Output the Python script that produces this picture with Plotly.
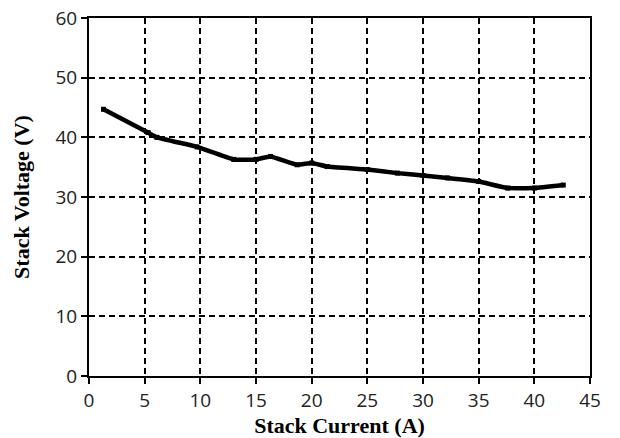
import plotly.graph_objects as go

current = [1.3, 5.3, 6.1, 9.7, 13.0, 15.0, 16.3, 18.7, 20.0, 21.4, 25.0, 27.7, 30.0, 32.2, 35.0, 37.6, 40.0, 42.6]
voltage = [44.7, 40.8, 40.0, 38.4, 36.3, 36.3, 36.8, 35.4, 35.7, 35.1, 34.6, 34.0, 33.6, 33.2, 32.6, 31.5, 31.5, 32.0]

x_ticks = [0, 5, 10, 15, 20, 25, 30, 35, 40, 45]
y_ticks = [0, 10, 20, 30, 40, 50, 60]

fig = go.Figure()
fig.add_trace(go.Scatter(
    x=current, y=voltage, mode="lines+markers",
    line=dict(color="black", width=4.5, shape="spline", smoothing=0.3),
    marker=dict(symbol="square", size=5, color="black"),
    showlegend=False, hoverinfo="skip",
))

tick_font = dict(family="Open Sans, DejaVu Sans, sans-serif", size=19, color="#222")
title_font = dict(family="Liberation Serif, Times New Roman, serif", size=22, color="black")

fig.update_layout(
    width=620, height=438,
    margin=dict(l=89, r=30, t=18, b=62),
    plot_bgcolor="white", paper_bgcolor="white",
    xaxis=dict(
        range=[0, 45], tickvals=x_ticks, ticktext=[str(v) for v in x_ticks],
        showline=True, linecolor="black", linewidth=2, mirror=True,
        ticks="outside", ticklen=6, tickwidth=2, tickcolor="black",
        showgrid=True, gridcolor="black", gridwidth=2, griddash="6px,4px",
        zeroline=False, tickfont=tick_font, automargin=False,
        title=dict(text="<b>Stack Current (A)</b>", font=title_font, standoff=6),
    ),
    yaxis=dict(
        range=[0, 60], tickvals=y_ticks, ticktext=[str(v) for v in y_ticks],
        showline=True, linecolor="black", linewidth=2, mirror=True,
        ticks="outside", ticklen=6, tickwidth=2, tickcolor="black",
        showgrid=True, gridcolor="black", gridwidth=2, griddash="6px,4px",
        zeroline=False, tickfont=tick_font, automargin=False,
        title=dict(text="<b>Stack Voltage (V)</b>", font=title_font, standoff=20),
    ),
)

fig.write_html(
    "out.html",
    config={"displayModeBar": False},
    post_script="document.body.style.margin='0';document.body.style.overflow='hidden';",
)
